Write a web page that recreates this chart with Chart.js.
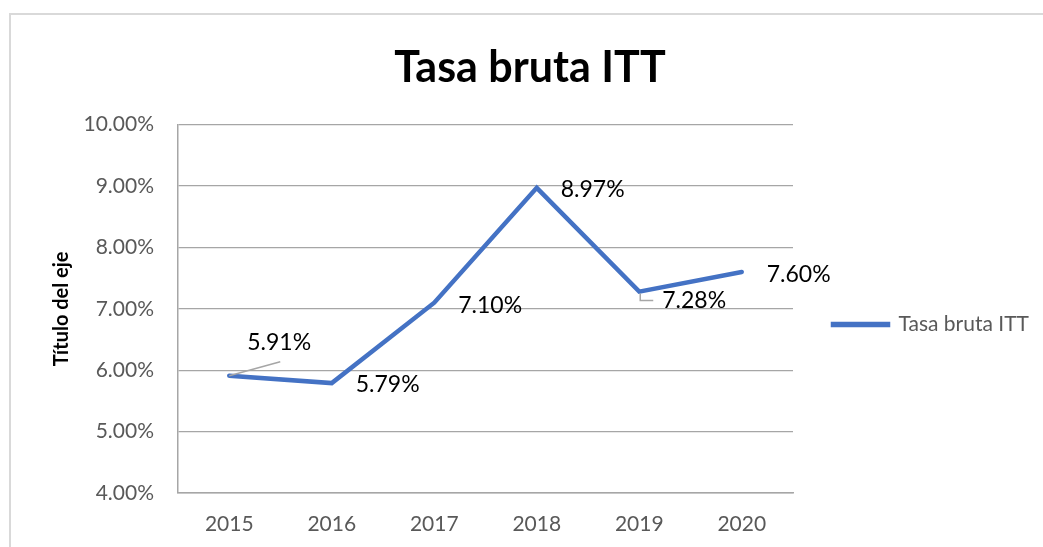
<!DOCTYPE html>
<html>
<head>
<meta charset="utf-8">
<script src="https://cdn.jsdelivr.net/npm/chart.js@4"></script>
<style>
  html, body { margin: 0; padding: 0; background: #fff; overflow: hidden; }
  #wrap { position: relative; width: 1043px; height: 547px; overflow: hidden; }
  #frame { position: absolute; left: 9px; top: 13px; width: 1100px; height: 600px; border: 2px solid #d9d9d9; box-sizing: border-box; pointer-events: none; }
  canvas { position: absolute; left: 0; top: 0; }
</style>
</head>
<body>
<div id="wrap">
  <canvas id="ittChart" width="1043" height="547"></canvas>
  <div id="frame"></div>
</div>
<script>
// Datos del gráfico
const years = ['2015', '2016', '2017', '2018', '2019', '2020'];
const tasaBruta = [5.91, 5.79, 7.10, 8.97, 7.28, 7.60];
const yMin = 4;
const yMax = 10;
const yStep = 1;

const FONT = 'Lato, "Liberation Sans", sans-serif';

// posición de las etiquetas (desplazamiento desde el punto) y líneas guía
const labelOffsets = [
    { dx: 18, dy: -33, leader: [[0, 0], [51, -14]] },
    { dx: 24, dy: 1 },
    { dx: 24, dy: 3 },
    { dx: 24, dy: 2 },
    { dx: 23, dy: 9, leader: [[1, 2], [1, 9], [14, 9]] },
    { dx: 25, dy: 3 }
];

const dataLabels = {
    id: 'dataLabels',
    afterDatasetsDraw(chart) {
        const ctx = chart.ctx;
        const meta = chart.getDatasetMeta(0);
        ctx.save();
        meta.data.forEach((pt, i) => {
            const off = labelOffsets[i];
            if (off.leader) {
                ctx.strokeStyle = '#a6a6a6';
                ctx.lineWidth = 1.5;
                ctx.beginPath();
                off.leader.forEach((p, k) => {
                    if (k === 0) ctx.moveTo(pt.x + p[0], pt.y + p[1]);
                    else ctx.lineTo(pt.x + p[0], pt.y + p[1]);
                });
                ctx.stroke();
            }
            ctx.font = '23px ' + FONT;
            ctx.fillStyle = '#000';
            ctx.textAlign = 'left';
            ctx.textBaseline = 'middle';
            ctx.fillText(tasaBruta[i].toFixed(2) + '%', pt.x + off.dx, pt.y + off.dy);
        });
        ctx.restore();
    }
};

// la leyenda ocupa un ancho fijo a la derecha y baja un poco
const legendBox = {
    id: 'legendBox',
    beforeLayout(chart) {
        const lg = chart.legend;
        if (lg && !lg._fixed) {
            const fit = lg.fit;
            lg.fit = function () { fit.call(this); this.width = 250; };
            lg._fixed = true;
        }
    },
    afterLayout(chart) {
        const lg = chart.legend;
        lg.top += 51;
        lg.bottom += 51;
    }
};

const config = {
    type: 'line',
    data: {
        labels: years,
        datasets: [{
            label: 'Tasa bruta ITT',
            data: tasaBruta,
            borderColor: '#4472C4',
            backgroundColor: '#4472C4',
            borderWidth: 4.5,
            borderCapStyle: 'round',
            pointRadius: 0,
            tension: 0,
            fill: false
        }]
    },
    options: {
        responsive: false,
        animation: false,
        layout: { padding: { left: 17, right: 0, top: 0, bottom: 0 } },
        plugins: {
            title: {
                display: true,
                text: 'Tasa bruta ITT',
                color: '#000',
                font: { family: FONT, size: 43, weight: 'bold' },
                padding: { top: 42, bottom: 31 }
            },
            legend: {
                position: 'right',
                align: 'center',
                labels: {
                    boxWidth: 55,
                    boxHeight: 1,
                    padding: 40,
                    color: '#595959',
                    font: { family: FONT, size: 21 }
                }
            },
            tooltip: { enabled: false }
        },
        scales: {
            x: {
                offset: true,
                grid: { color: 'transparent', drawTicks: false },
                border: { display: true, color: '#a6a6a6', width: 1.5 },
                ticks: {
                    color: '#595959',
                    padding: 19,
                    font: { family: FONT, size: 21 }
                },
                afterFit(scale) { scale.height = 54; }
            },
            y: {
                min: yMin,
                max: yMax,
                grid: { color: '#a6a6a6', lineWidth: 1.3, drawTicks: false },
                border: { display: true, color: '#a6a6a6', width: 1.5 },
                ticks: {
                    stepSize: yStep,
                    color: '#595959',
                    padding: 24,
                    font: { family: FONT, size: 21 },
                    callback: v => v.toFixed(2) + '%'
                },
                title: {
                    display: true,
                    text: 'Título del eje',
                    color: '#000',
                    padding: { top: 33, bottom: 0 },
                    font: { family: FONT, size: 20, weight: 'bold' }
                },
                afterFit(scale) { scale.width = 161; }
            }
        }
    },
    plugins: [dataLabels, legendBox]
};

new Chart(document.getElementById('ittChart'), config);
</script>
</body>
</html>
